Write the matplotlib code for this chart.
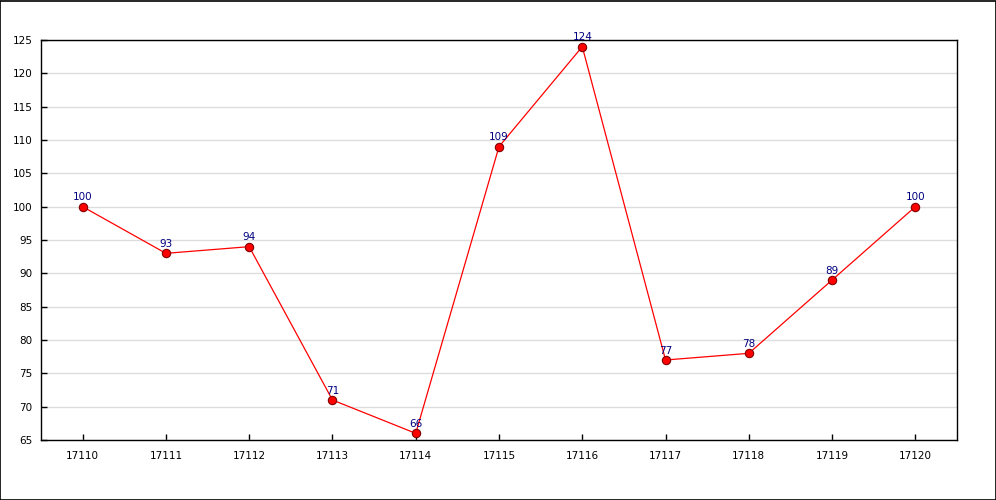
import matplotlib
matplotlib.use("Agg")
import matplotlib.pyplot as plt
from matplotlib.patches import Rectangle

categories = ["17110", "17111", "17112", "17113", "17114", "17115",
              "17116", "17117", "17118", "17119", "17120"]
values = [100, 93, 94, 71, 66, 109, 124, 77, 78, 89, 100]
y_ticks = list(range(65, 126, 5))

fig = plt.figure(figsize=(9.96, 5), dpi=100)
ax = fig.add_axes([41 / 996, 60 / 500, 916 / 996, 400 / 500])

xs = list(range(len(categories)))
ax.plot(xs, values, color="#ff0000", linewidth=0.9, zorder=3,
        marker="o", markersize=6, markerfacecolor="#ff0000",
        markeredgecolor="#800000", markeredgewidth=0.8, clip_on=False)
for x, v in zip(xs, values):
    ax.annotate(str(v), (x, v), xytext=(0, 3), textcoords="offset points",
                ha="center", va="bottom", fontsize=7.5, color="#000080")

ax.set_xlim(-0.5, len(categories) - 0.5)
ax.set_ylim(65, 125)
ax.set_xticks(xs)
ax.set_xticklabels(categories)
ax.set_yticks(y_ticks)
ax.tick_params(direction="in", length=4, width=1, labelsize=7.5, colors="black")
ax.tick_params(axis="x", pad=8)
ax.tick_params(axis="y", pad=6)
ax.grid(axis="y", color="#dddddd", linewidth=1)
ax.set_axisbelow(True)
for s in ax.spines.values():
    s.set_linewidth(1)

# frame around the whole picture
fig.patches.append(Rectangle((0.0005, 0.001), 0.999, 0.998, transform=fig.transFigure,
                             fill=False, edgecolor="black", linewidth=1.2))

fig.savefig("out.png", dpi=100)
